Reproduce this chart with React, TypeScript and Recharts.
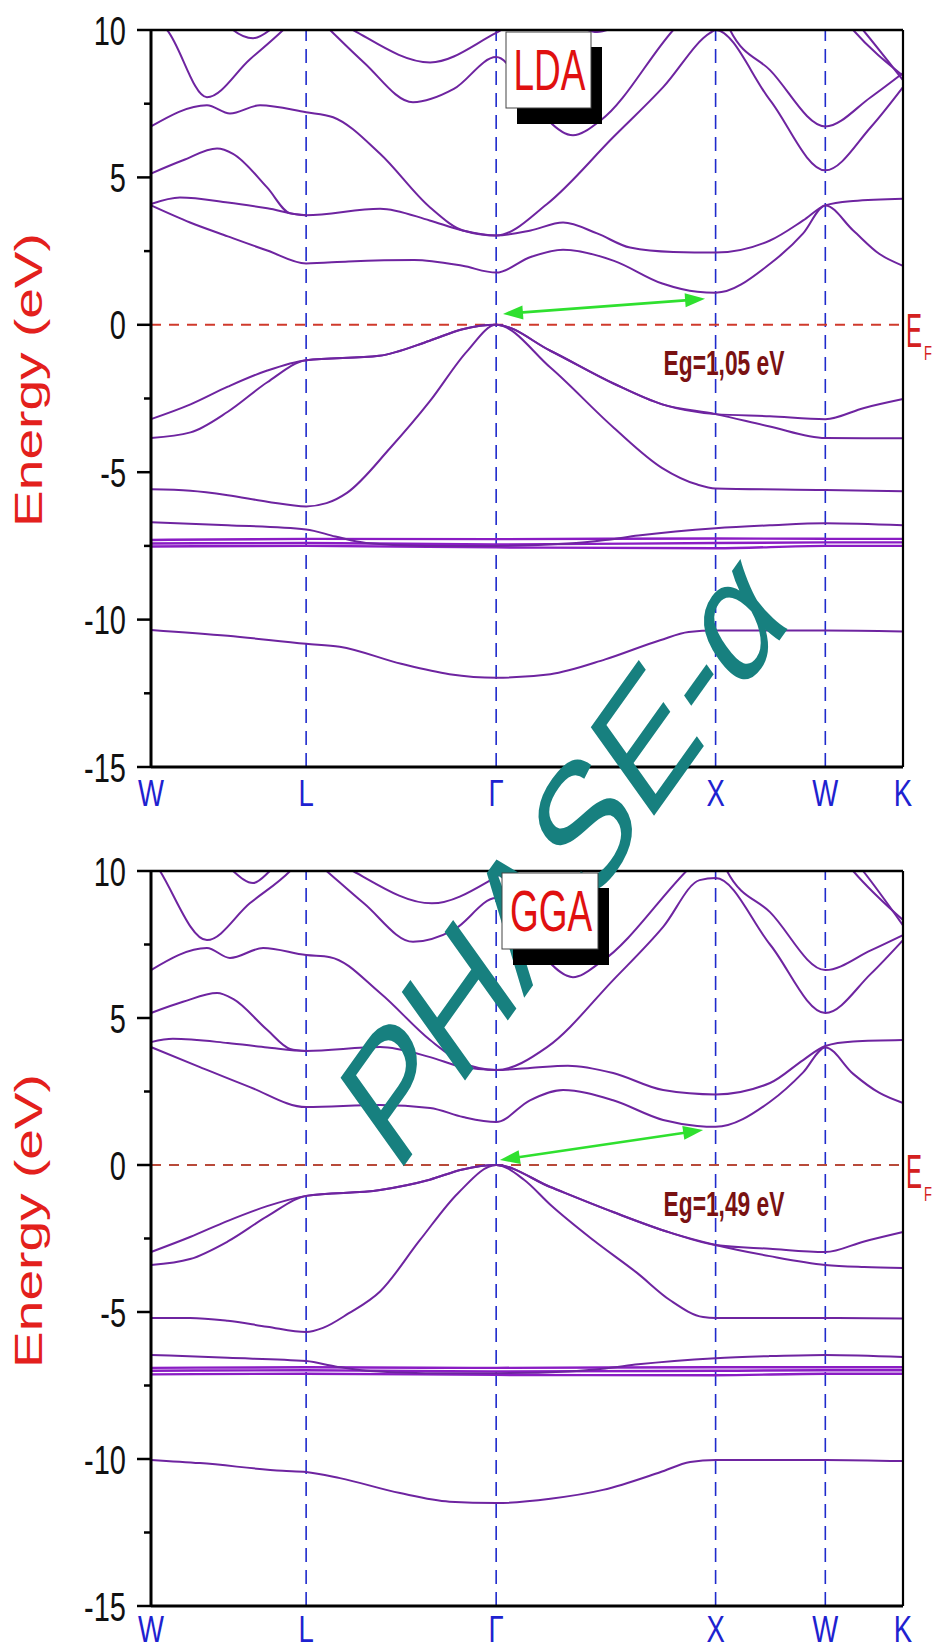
import { LineChart, Line, XAxis, YAxis, ReferenceLine } from "recharts"

type Pt = [number, number]

// k-path W-L-Γ-X-W-K (path length units)
const kTicks = [0, 0.707, 1.573, 2.573, 3.073, 3.427]
const kLabels = ["W", "L", "Γ", "X", "W", "K"]
const symLines = [0.707, 1.573, 2.573, 3.073]
const energyTicks = [-15, -12.5, -10, -7.5, -5, -2.5, 0, 2.5, 5, 7.5, 10]

// ---- LDA bands (eV) ----
const ldaS: Pt[] = [[0,-10.35],[0.35,-10.55],[0.707,-10.82],[0.86,-10.92],[1.14,-11.5],[1.36,-11.85],[1.573,-11.97],[1.82,-11.85],[2.07,-11.35],[2.32,-10.7],[2.45,-10.42],[2.573,-10.37],[3.073,-10.37],[3.427,-10.4]]
const ldaD1: Pt[] = [[0,-7.52],[0.707,-7.5],[1.573,-7.55],[2.573,-7.58],[3.073,-7.5],[3.427,-7.5]]
const ldaD2: Pt[] = [[0,-7.42],[0.707,-7.4],[1.573,-7.45],[2.573,-7.4],[3.073,-7.38],[3.427,-7.38]]
const ldaD3: Pt[] = [[0,-7.3],[0.707,-7.26],[1.573,-7.27],[2.573,-7.25],[3.073,-7.26],[3.427,-7.26]]
const ldaD4: Pt[] = [[0,-6.7],[0.35,-6.8],[0.707,-6.94],[0.84,-7.18],[0.98,-7.4],[1.25,-7.5],[1.573,-7.5],[1.9,-7.42],[2.07,-7.3],[2.22,-7.15],[2.573,-6.9],[2.82,-6.8],[3.073,-6.73],[3.427,-6.8]]
const ldaV1: Pt[] = [[0,-5.58],[0.18,-5.63],[0.35,-5.78],[0.53,-6.0],[0.707,-6.16],[0.8,-6.05],[0.893,-5.7],[1.09,-4.18],[1.27,-2.6],[1.44,-0.9],[1.573,0],[1.82,-1.45],[2.11,-3.5],[2.33,-4.86],[2.49,-5.42],[2.573,-5.55],[3.073,-5.6],[3.427,-5.65]]
const ldaV2: Pt[] = [[0,-3.2],[0.18,-2.7],[0.35,-2.1],[0.53,-1.55],[0.707,-1.2],[1.04,-1.05],[1.27,-0.54],[1.42,-0.15],[1.573,0],[1.82,-0.88],[2.11,-2.0],[2.33,-2.7],[2.573,-3.03],[2.82,-3.1],[3.073,-3.2],[3.25,-2.82],[3.427,-2.52]]
const ldaV3: Pt[] = [[0,-3.84],[0.18,-3.65],[0.35,-2.95],[0.53,-1.95],[0.707,-1.2],[1.04,-1.05],[1.27,-0.54],[1.42,-0.15],[1.573,0],[1.82,-0.88],[2.11,-2.0],[2.33,-2.7],[2.573,-3.03],[2.82,-3.45],[3.073,-3.84],[3.25,-3.85],[3.427,-3.85]]
const ldaC1: Pt[] = [[0,4.05],[0.178,3.47],[0.35,3.0],[0.53,2.52],[0.707,2.08],[0.9,2.15],[1.2,2.2],[1.42,2.0],[1.573,1.77],[1.73,2.3],[1.878,2.55],[2.11,2.17],[2.33,1.4],[2.49,1.12],[2.573,1.09],[2.821,2.07],[2.972,3.1],[3.073,4.05],[3.2,3.2],[3.32,2.4],[3.427,2.0]]
const ldaC2: Pt[] = [[0,4.1],[0.132,4.32],[0.35,4.15],[0.53,3.95],[0.707,3.72],[1.044,3.94],[1.27,3.54],[1.42,3.2],[1.573,3.03],[1.73,3.2],[1.878,3.47],[2.033,3.1],[2.183,2.62],[2.38,2.47],[2.573,2.45],[2.821,2.86],[2.972,3.54],[3.073,4.05],[3.2,4.2],[3.427,4.28]]
const ldaC3: Pt[] = [[0,5.13],[0.146,5.58],[0.301,5.98],[0.374,5.8],[0.529,4.66],[0.634,3.78],[0.707,3.72]]
const ldaC4: Pt[] = [[0,6.73],[0.255,7.45],[0.36,7.17],[0.497,7.45],[0.707,7.21],[0.83,7.04],[1.044,5.8],[1.272,3.98],[1.422,3.2],[1.573,3.03],[1.805,4.1],[2.106,6.36],[2.334,8.06],[2.548,9.9],[2.573,10.0],[2.821,7.62],[3.073,5.24],[3.28,6.7],[3.427,8.06]]
const ldaC5: Pt[] = [[0,10.5],[0.073,10.0],[0.255,7.72],[0.45,9.0],[0.602,10.0],[0.707,10.8],[0.816,10.0],[0.97,8.9],[1.194,7.55],[1.38,8.0],[1.573,9.08],[1.7,8.1],[1.81,6.94],[1.923,6.43],[2.05,6.94],[2.38,10.0],[2.573,11.5],[2.639,10.0],[2.821,8.64],[3.073,6.73],[3.28,7.72],[3.427,8.54]]
const ldaC6: Pt[] = [[0.3,10.6],[0.374,10.0],[0.465,9.72],[0.542,10.0],[0.62,10.6],[0.707,11.0],[0.921,10.0],[1.272,8.9],[1.573,9.9],[1.7,10.4],[1.95,10.1],[2.033,9.93],[2.12,10.1],[2.573,11.5],[3.073,11.2],[3.2,10.0],[3.427,8.45]]
const ldaC7: Pt[] = [[3.073,11.5],[3.245,10.0],[3.427,8.3]]

// ---- GGA bands (eV) ----
const ggaS: Pt[] = [[0,-10.03],[0.223,-10.14],[0.6,-10.4],[0.707,-10.44],[0.861,-10.65],[1.135,-11.16],[1.36,-11.45],[1.573,-11.5],[1.82,-11.35],[2.06,-11.05],[2.32,-10.45],[2.457,-10.1],[2.573,-10.03],[3.073,-10.03],[3.427,-10.07]]
const ggaD1: Pt[] = [[0,-7.12],[0.707,-7.1],[1.573,-7.14],[2.573,-7.15],[3.073,-7.1],[3.427,-7.1]]
const ggaD2: Pt[] = [[0,-7.0],[0.707,-6.98],[1.573,-7.02],[2.573,-7.0],[3.073,-6.98],[3.427,-6.98]]
const ggaD3: Pt[] = [[0,-6.9],[0.707,-6.88],[1.573,-6.9],[2.573,-6.88],[3.073,-6.88],[3.427,-6.88]]
const ggaD4: Pt[] = [[0,-6.46],[0.35,-6.56],[0.707,-6.67],[0.84,-6.85],[0.98,-7.0],[1.25,-7.08],[1.573,-7.08],[1.9,-7.02],[2.07,-6.92],[2.22,-6.78],[2.573,-6.57],[2.82,-6.5],[3.073,-6.46],[3.427,-6.53]]
const ggaV1: Pt[] = [[0,-5.2],[0.178,-5.2],[0.35,-5.3],[0.529,-5.5],[0.707,-5.68],[0.784,-5.54],[0.9,-5.05],[1.044,-4.3],[1.226,-2.55],[1.4,-0.95],[1.573,0],[1.7,-0.5],[1.82,-1.35],[2.015,-2.55],[2.215,-3.67],[2.366,-4.6],[2.516,-5.17],[2.573,-5.2],[3.073,-5.2],[3.427,-5.22]]
const ggaV2: Pt[] = [[0,-2.96],[0.178,-2.45],[0.35,-1.9],[0.529,-1.4],[0.707,-1.05],[1.044,-0.85],[1.27,-0.5],[1.42,-0.15],[1.573,0],[1.82,-0.75],[2.106,-1.6],[2.366,-2.3],[2.573,-2.72],[2.82,-2.85],[3.073,-2.96],[3.25,-2.6],[3.427,-2.28]]
const ggaV3: Pt[] = [[0,-3.4],[0.178,-3.2],[0.35,-2.6],[0.529,-1.75],[0.707,-1.05],[1.044,-0.85],[1.27,-0.5],[1.42,-0.15],[1.573,0],[1.82,-0.75],[2.106,-1.6],[2.366,-2.3],[2.573,-2.72],[2.82,-3.1],[3.073,-3.4],[3.25,-3.47],[3.427,-3.5]]
const ggaC1: Pt[] = [[0,4.01],[0.223,3.33],[0.451,2.65],[0.707,1.97],[1.044,2.04],[1.272,1.94],[1.422,1.63],[1.573,1.46],[1.727,2.2],[1.878,2.55],[2.106,2.2],[2.334,1.53],[2.489,1.33],[2.573,1.3],[2.821,2.15],[2.972,3.15],[3.073,4.0],[3.2,3.1],[3.32,2.45],[3.427,2.11]]
const ggaC2: Pt[] = [[0,4.18],[0.1,4.29],[0.35,4.15],[0.53,4.0],[0.707,3.88],[1.044,4.01],[1.272,3.67],[1.422,3.33],[1.573,3.23],[1.727,3.3],[1.9,3.38],[2.106,3.13],[2.334,2.55],[2.573,2.4],[2.821,2.79],[2.972,3.57],[3.073,4.05],[3.2,4.2],[3.427,4.25]]
const ggaC3: Pt[] = [[0,5.17],[0.146,5.55],[0.301,5.85],[0.374,5.65],[0.529,4.6],[0.634,3.95],[0.707,3.88]]
const ggaC4: Pt[] = [[0,6.63],[0.255,7.38],[0.36,7.04],[0.511,7.38],[0.707,7.14],[0.816,7.07],[1.044,5.85],[1.272,4.25],[1.422,3.47],[1.573,3.23],[1.805,4.01],[2.106,6.29],[2.334,8.1],[2.5,9.69],[2.573,9.76],[2.821,7.5],[3.073,5.17],[3.28,6.5],[3.427,7.65]]
const ggaC5: Pt[] = [[0,10.5],[0.041,10.0],[0.255,7.65],[0.45,8.9],[0.634,10.0],[0.707,10.6],[0.8,10.0],[0.97,8.9],[1.194,7.59],[1.38,8.0],[1.573,9.08],[1.7,8.1],[1.81,6.94],[1.923,6.39],[2.05,6.9],[2.44,10.0],[2.573,11.0],[2.625,10.0],[2.821,8.6],[3.073,6.63],[3.28,7.3],[3.427,7.82]]
const ggaC6: Pt[] = [[0.3,10.6],[0.374,10.0],[0.465,9.59],[0.542,10.0],[0.62,10.6],[0.707,11.0],[0.921,10.0],[1.28,8.9],[1.573,9.8],[1.7,10.4],[2.573,11.5],[3.073,11.2],[3.2,10.0],[3.427,8.33]]
const ggaC7: Pt[] = [[3.073,11.5],[3.245,10.0],[3.427,8.15]]

const ldaCore = [ldaD1, ldaD2, ldaD3]
const ldaBands = [ldaS, ldaD4, ldaV1, ldaV2, ldaV3, ldaC1, ldaC2, ldaC3, ldaC4, ldaC5, ldaC6, ldaC7]
const ggaCore = [ggaD1, ggaD2, ggaD3]
const ggaBands = [ggaS, ggaD4, ggaV1, ggaV2, ggaV3, ggaC1, ggaC2, ggaC3, ggaC4, ggaC5, ggaC6, ggaC7]

// gap arrows (k, eV): VBM at Γ -> CBM near X
const ldaGap = [1.604, 0.37, 2.525, 0.88]
const ggaGap = [1.59, 0.17, 2.516, 1.19]

const FONT = "'Liberation Sans', Arial, sans-serif"
const BAND = "#6e24a0"
const CORE = "#8a1cc4"

const toRows = (pts: Pt[]) => pts.map(([k, e]) => ({ k, e }))

const KTick = ({ x, y, payload, off = 28.5 }: any) => {
  const i = kTicks.findIndex((t) => Math.abs(t - payload.value) < 1e-6)
  return (
    <text transform={`translate(${x},${y}) scale(1,1.37)`} y={off} textAnchor="middle" fontSize={27.5} fill="#1e22d0" fontFamily={FONT}>
      {kLabels[i]}
    </text>
  )
}

const ETick = ({ x, y, payload }: any) => {
  const v = payload.value
  const major = v % 5 === 0
  return (
    <g>
      <line x1={x - (major ? 14 : 7)} x2={x} y1={y} y2={y} stroke="#000" strokeWidth={2.5} />
      {major && (
        <text transform={`translate(${x - 25},${y}) scale(1,1.4)`} y={10.4} textAnchor="end" fontSize={29} fill="#111" fontFamily={FONT}>
          {v}
        </text>
      )}
    </g>
  )
}

const Arrow = (p: any) => {
  const { x1, y1, x2, y2 } = p
  const dx = x2 - x1
  const dy = y2 - y1
  const len = Math.sqrt(dx * dx + dy * dy)
  const ux = dx / len
  const uy = dy / len
  const hl = 20
  const hw = 7
  const head = (tx: number, ty: number, sx: number, sy: number) => {
    const bx = tx + sx * hl
    const by = ty + sy * hl
    return `${tx},${ty} ${bx - sy * hw},${by + sx * hw} ${bx + sy * hw},${by - sx * hw}`
  }
  return (
    <g>
      <line x1={x1 + ux * 10} y1={y1 + uy * 10} x2={x2 - ux * 10} y2={y2 - uy * 10} stroke="#2fe02f" strokeWidth={2.6} />
      <polygon points={head(x1, y1, ux, uy)} fill="#2fe02f" />
      <polygon points={head(x2, y2, -ux, -uy)} fill="#2fe02f" />
    </g>
  )
}

const Panel = ({ core, bands, gap, top, height, bottom, fermi, labelOff }: any) => (
  <div style={{ position: "absolute", left: 0, top }}>
    <LineChart width={939} height={height} margin={{ top: 30, right: 36, bottom, left: 91 }}>
      <XAxis
        type="number"
        dataKey="k"
        domain={[0, 3.427]}
        ticks={kTicks}
        interval={0}
        tick={<KTick off={labelOff} />}
        tickSize={0}
        tickMargin={0}
        height={40}
        axisLine={{ stroke: "#000", strokeWidth: 3 }}
      />
      <YAxis
        type="number"
        domain={[-15, 10]}
        allowDataOverflow
        ticks={energyTicks}
        interval={0}
        tick={<ETick />}
        tickSize={0}
        tickMargin={0}
        width={60}
        axisLine={{ stroke: "#000", strokeWidth: 3 }}
      />
      {symLines.map((k) => (
        <ReferenceLine key={k} x={k} stroke="#1f2bcc" strokeWidth={1.6} strokeDasharray="14 8" />
      ))}
      <ReferenceLine y={0} stroke={fermi} strokeWidth={2} strokeDasharray="10 8" />
      {core.map((b: Pt[], i: number) => (
        <Line
          key={`d${i}`}
          data={toRows(b)}
          dataKey="e"
          type="monotone"
          stroke={CORE}
          strokeWidth={2.4}
          dot={false}
          activeDot={false}
          isAnimationActive={false}
        />
      ))}
      {bands.map((b: Pt[], i: number) => (
        <Line
          key={i}
          data={toRows(b)}
          dataKey="e"
          type="monotone"
          stroke={BAND}
          strokeWidth={2}
          dot={false}
          activeDot={false}
          isAnimationActive={false}
        />
      ))}
      <ReferenceLine y={10} stroke="#000" strokeWidth={2.5} />
      <ReferenceLine x={3.427} stroke="#000" strokeWidth={2.2} />
      <ReferenceLine
        segment={[{ x: gap[0], y: gap[1] }, { x: gap[2], y: gap[3] }]}
        ifOverflow="visible"
        shape={(p: any) => <Arrow {...p} />}
      />
    </LineChart>
  </div>
)

const Labels = ({ dy, tag, eg, boxX, boxW }: any) => (
  <g transform={`translate(0,${dy})`}>
    <text transform="translate(42,380) rotate(-90) scale(1.45,1)" textAnchor="middle" fontSize={38} fill="#e3201c" fontFamily={FONT}>
      Energy (eV)
    </text>
    <rect x={boxX + 11} y={47} width={boxW} height={77} fill="#000" />
    <rect x={boxX} y={32} width={boxW} height={76} fill="#fff" stroke="#444" strokeWidth={1} />
    <text transform={`translate(${boxX + boxW / 2 + 1},90) scale(1,1.55)`} textAnchor="middle" fontSize={37} fill="#e01010" fontFamily={FONT}>
      {tag}
    </text>
    <text transform="translate(724,375) scale(1,1.55)" textAnchor="middle" fontSize={22.8} fontWeight="bold" fill="#7a1212" fontFamily={FONT}>
      {eg}
    </text>
    <text transform="translate(906,347) scale(1,2)" fontSize={24} fill="#d42020" fontFamily={FONT}>E</text>
    <text transform="translate(924,360) scale(1,1.5)" fontSize={13} fill="#d42020" fontFamily={FONT}>F</text>
  </g>
)

export default function App() {
  return (
    <div style={{ position: "absolute", left: 0, top: 0, width: 939, height: 1651, background: "#fff", overflow: "hidden" }}>
      <Panel core={ldaCore} bands={ldaBands} gap={ldaGap} top={0} height={820} bottom={13} fermi="#cf3a2c" labelOff={28.5} />
      <Panel core={ggaCore} bands={ggaBands} gap={ggaGap} top={841} height={810} bottom={5} fermi="#b84a3a" labelOff={26.5} />
      <svg width={939} height={1651} style={{ position: "absolute", left: 0, top: 0, pointerEvents: "none" }}>
        <text transform="translate(594,900) scale(1,1.4) rotate(-45)" textAnchor="middle" fontSize={130} fill="#17807f" fontFamily={FONT}>
          PHASE-α
        </text>
        <Labels dy={0} tag="LDA" eg="Eg=1,05 eV" boxX={506} boxW={85} />
        <Labels dy={841} tag="GGA" eg="Eg=1,49 eV" boxX={502} boxW={96} />
      </svg>
    </div>
  )
}
